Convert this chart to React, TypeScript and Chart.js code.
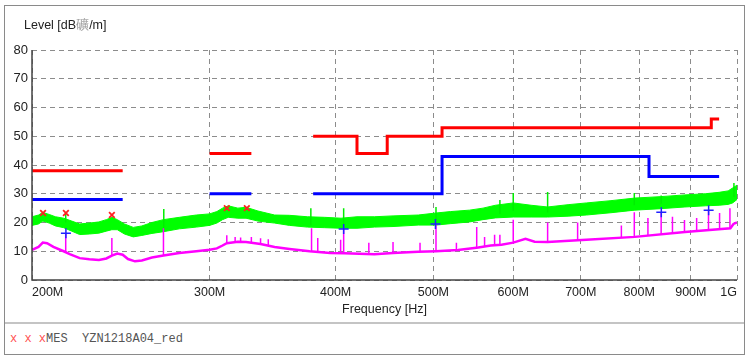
import React, { useEffect, useRef } from 'react';
import { Chart, registerables } from 'chart.js';

Chart.register(...registerables);

// ---- axis ticks ----
const X_TICKS = [200, 300, 400, 500, 600, 700, 800, 900, 1000];
const X_TICK_LABELS = ['200M', '300M', '400M', '500M', '600M', '700M', '800M', '900M', '1G'];
const Y_TICKS = [0, 10, 20, 30, 40, 50, 60, 70, 80];

// ---- limit lines (MHz, dBµV/m); null = gap ----
const qpLimFreq = [200, 246, 246, 300, 330, 330, 380, 420, 420, 450, 450, 510, 510, 943, 943, 960];
const qpLimLevel = [38, 38, null, 44, 44, null, 50, 50, 44, 44, 50, 50, 53, 53, 56, 56];
const avLimFreq = [200, 246, 246, 300, 330, 330, 380, 510, 510, 818, 818, 960];
const avLimLevel = [28, 28, null, 30, 30, null, 30, 30, 43, 43, 36, 36];

// ---- peak trace (green) envelope ----
const greenFreq = [200, 203, 205, 208, 211, 215, 219, 223, 228, 233, 237, 240, 243, 247, 252, 257, 263, 270, 280, 291, 300, 305, 309, 313, 320, 326, 335, 348, 360, 375, 390, 405, 420, 437, 456, 483, 503, 520, 543, 560, 576, 600, 625, 649, 680, 709, 750, 792, 840, 888, 930, 960, 980, 990, 1000];
const greenUpper = [22.0, 22.6, 23.5, 22.8, 22.0, 21.5, 20.5, 19.5, 19.8, 20.2, 21.0, 21.8, 21.0, 19.5, 18.3, 18.8, 20.0, 21.0, 21.8, 22.6, 23.0, 23.8, 25.0, 25.8, 25.0, 25.3, 24.0, 22.6, 22.5, 22.0, 21.8, 21.5, 22.0, 22.0, 22.3, 22.6, 23.3, 23.8, 24.3, 25.0, 26.0, 26.8, 26.0, 25.4, 26.2, 26.8, 27.6, 28.5, 29.0, 29.6, 30.0, 30.5, 31.0, 32.0, 33.0];
const greenLower = [19.0, 19.5, 20.5, 19.8, 18.8, 18.2, 17.0, 15.8, 16.0, 16.3, 17.0, 17.5, 17.5, 16.0, 15.0, 15.5, 16.2, 16.8, 17.8, 18.4, 19.0, 19.8, 21.0, 21.8, 21.5, 21.5, 20.5, 19.8, 19.0, 18.4, 18.2, 18.0, 18.0, 18.4, 18.6, 19.1, 19.1, 19.6, 20.2, 21.0, 21.6, 21.9, 21.9, 21.9, 22.2, 22.6, 23.4, 24.3, 24.8, 25.4, 25.8, 26.0, 26.3, 26.8, 28.0];
const greenSpikeFreq = [216, 270.2, 378, 407.4, 503, 582, 600, 649, 791, 841, 993];
const greenSpikeBase = [20.0, 18.0, 19.0, 19.0, 21.0, 23.0, 24.0, 23.5, 26.0, 26.5, 29.0];
const greenSpikeTop = [23.3, 24.7, 25.0, 25.0, 25.4, 27.8, 30.3, 30.6, 30.3, 29.4, 33.7];

// ---- average trace (magenta) ----
const magFreq = [200, 203, 205, 207, 210, 215, 218, 223, 228, 233, 237, 240, 243, 246, 249, 253, 257, 263, 270, 280, 291, 300, 305, 309, 312, 320, 326, 337, 348, 360, 377, 395, 408, 437, 456, 483, 503, 529, 554, 570, 584, 600, 617, 630, 649, 709, 792, 888, 985, 992, 1000];
const magLevel = [10.5, 11.5, 13.0, 12.8, 11.5, 10.0, 9.0, 7.6, 7.2, 7.0, 7.5, 8.5, 9.2, 8.8, 7.3, 6.5, 6.8, 7.8, 8.5, 9.4, 10.0, 10.5, 11.0, 12.0, 12.8, 13.3, 13.2, 12.5, 11.5, 10.8, 10.0, 9.4, 9.3, 9.0, 9.4, 9.8, 10.0, 10.4, 11.3, 12.0, 12.3, 13.0, 14.3, 13.3, 13.2, 14.0, 15.0, 16.7, 18.0, 19.5, 20.0];
const magSpikeFreq = [216, 240, 270, 312, 318, 322, 330, 337, 343, 378.6, 384, 404.6, 407.4, 431.5, 456, 485, 503, 527, 552, 562, 575, 582, 600, 649, 695, 768, 791, 816, 841, 863, 887, 912, 937, 961, 984];
const magSpikeBase = [9.5, 8.5, 8.5, 12.8, 13.3, 13.3, 13.2, 12.5, 12.0, 10.0, 10.0, 9.4, 9.4, 9.2, 9.4, 9.8, 10.0, 10.3, 11.2, 11.5, 12.0, 12.3, 13.0, 13.2, 14.0, 14.8, 15.0, 15.3, 15.8, 16.2, 16.7, 17.0, 17.3, 17.6, 18.0];
const magSpikeTop = [16.3, 14.6, 18.0, 15.6, 15.0, 14.8, 15.0, 14.5, 14.2, 18.0, 14.6, 14.0, 18.0, 13.0, 13.2, 13.0, 19.5, 13.0, 18.4, 15.0, 15.7, 15.7, 21.0, 20.0, 20.0, 19.0, 23.6, 21.6, 23.6, 22.0, 20.9, 21.6, 24.3, 23.3, 25.0];

// ---- measurement markers ----
const qpMarkFreq = [205.1, 216.1, 240.0, 312.0, 326.6];
const qpMarkLevel = [23.3, 23.3, 22.6, 25.0, 25.0];
const avMarkFreq = [216.1, 407.4, 502.4, 841.3, 937.3];
const avMarkLevel = [16.3, 17.7, 19.5, 23.6, 24.3];

const pts = (xs: number[], ys: (number | null)[]) => xs.map((x, i) => ({ x, y: ys[i] }));
const spikes = (xs: number[], b: number[], t: number[]) => {
  const out: { x: number; y: number | null }[] = [];
  xs.forEach((x, i) => {
    out.push({ x, y: b[i] }, { x, y: t[i] }, { x, y: null });
  });
  return out;
};

const SANS = '"Liberation Sans", Arial, sans-serif';

const axisLines = {
  id: 'axisLines',
  afterDraw(chart: any) {
    const { ctx, chartArea } = chart;
    ctx.save();
    ctx.strokeStyle = '#444';
    ctx.lineWidth = 1.5;
    ctx.setLineDash([]);
    ctx.beginPath();
    ctx.moveTo(chartArea.left, chartArea.top);
    ctx.lineTo(chartArea.left, chartArea.bottom);
    ctx.lineTo(chartArea.right, chartArea.bottom);
    ctx.stroke();
    ctx.restore();
  },
};

export default function App() {
  const ref = useRef<HTMLCanvasElement>(null);
  useEffect(() => {
    const chart = new Chart(ref.current as HTMLCanvasElement, {
      type: 'line',
      data: {
        datasets: [
          { data: pts(qpMarkFreq, qpMarkLevel), showLine: false, pointStyle: 'crossRot', pointRadius: 4, borderColor: '#ff2020', borderWidth: 1.8 },
          { data: pts(avMarkFreq, avMarkLevel), showLine: false, pointStyle: 'cross', pointRadius: 5, borderColor: '#2020ff', borderWidth: 1.5 },
          { data: pts(qpLimFreq, qpLimLevel), borderColor: '#ff0000', borderWidth: 3, pointRadius: 0, spanGaps: false },
          { data: pts(avLimFreq, avLimLevel), borderColor: '#0000ff', borderWidth: 3, pointRadius: 0, spanGaps: false },
          { data: spikes(magSpikeFreq, magSpikeBase, magSpikeTop), borderColor: '#ff00ff', borderWidth: 1.5, pointRadius: 0, spanGaps: false },
          { data: pts(magFreq, magLevel), borderColor: '#ff00ff', borderWidth: 2.5, pointRadius: 0 },
          { data: spikes(greenSpikeFreq, greenSpikeBase, greenSpikeTop), borderColor: '#00ee00', borderWidth: 1.5, pointRadius: 0, spanGaps: false },
          { data: pts(greenFreq, greenUpper), borderColor: '#00ff00', backgroundColor: '#00ff00', borderWidth: 1, pointRadius: 0, fill: '+1' },
          { data: pts(greenFreq, greenLower), borderColor: '#00ff00', borderWidth: 1, pointRadius: 0, fill: false },
        ],
      },
      options: {
        responsive: false,
        animation: false,
        events: [],
        layout: { padding: { left: 0, right: 7, top: 44, bottom: 0 } },
        plugins: { legend: { display: false }, tooltip: { enabled: false }, title: { display: false } },
        elements: { line: { tension: 0 } },
        scales: {
          x: {
            type: 'logarithmic',
            min: 200,
            max: 1000,
            afterBuildTicks: (s: any) => { s.ticks = X_TICKS.map((v) => ({ value: v })); },
            afterFit: (s: any) => { s.height = 42; },
            ticks: {
              autoSkip: false, maxRotation: 0, minRotation: 0, align: 'inner', padding: 5,
              color: '#222', font: { family: SANS, size: 12.5 },
              callback: (_v: any, i: number) => X_TICK_LABELS[i],
            },
            grid: { color: '#8c8c8c', lineWidth: 1, drawTicks: false },
            border: { display: false, dash: [5, 4] },
            title: { display: true, text: 'Frequency [Hz]', color: '#222', font: { family: SANS, size: 12.5 }, padding: { top: 0, bottom: 5 } },
          },
          y: {
            type: 'linear',
            min: 0,
            max: 80,
            afterBuildTicks: (s: any) => { s.ticks = Y_TICKS.map((v) => ({ value: v })); },
            afterFit: (s: any) => { s.width = 27; },
            ticks: { padding: 4, color: '#222', font: { family: SANS, size: 13 } },
            grid: { color: '#8c8c8c', lineWidth: 1, drawTicks: false },
            border: { display: false, dash: [5, 4] },
          },
        },
      },
      plugins: [axisLines],
    } as any);
    return () => chart.destroy();
  }, []);

  return (
    <div style={{ position: 'fixed', left: 0, top: 0, width: 749, height: 359, background: '#fff', fontFamily: SANS }}>
      <div style={{ position: 'absolute', left: 4, top: 5, width: 739, height: 348, border: '1px solid #8a8a8a' }} />
      <div style={{ position: 'absolute', left: 5, top: 6, width: 739, height: 316 }}>
        <canvas ref={ref} width={739} height={316} style={{ width: 739, height: 316, display: 'block' }} />
      </div>
      <div style={{ position: 'absolute', left: 24, top: 18, fontSize: 12.5, lineHeight: '14px', color: '#222', whiteSpace: 'nowrap' }}>
        Level [dB<span style={{ color: '#999' }}>礦</span>/m]
      </div>
      <div style={{ position: 'absolute', left: 5, top: 322, width: 739, height: 2, background: '#c4c4c4' }} />
      <div style={{ position: 'absolute', left: 10, top: 332, fontFamily: '"Liberation Mono", "DejaVu Sans Mono", monospace', fontSize: 12, lineHeight: '14px', color: '#555', whiteSpace: 'pre' }}>
        <span style={{ color: '#ff5050' }}>x x x</span>MES  YZN1218A04_red
      </div>
    </div>
  );
}
